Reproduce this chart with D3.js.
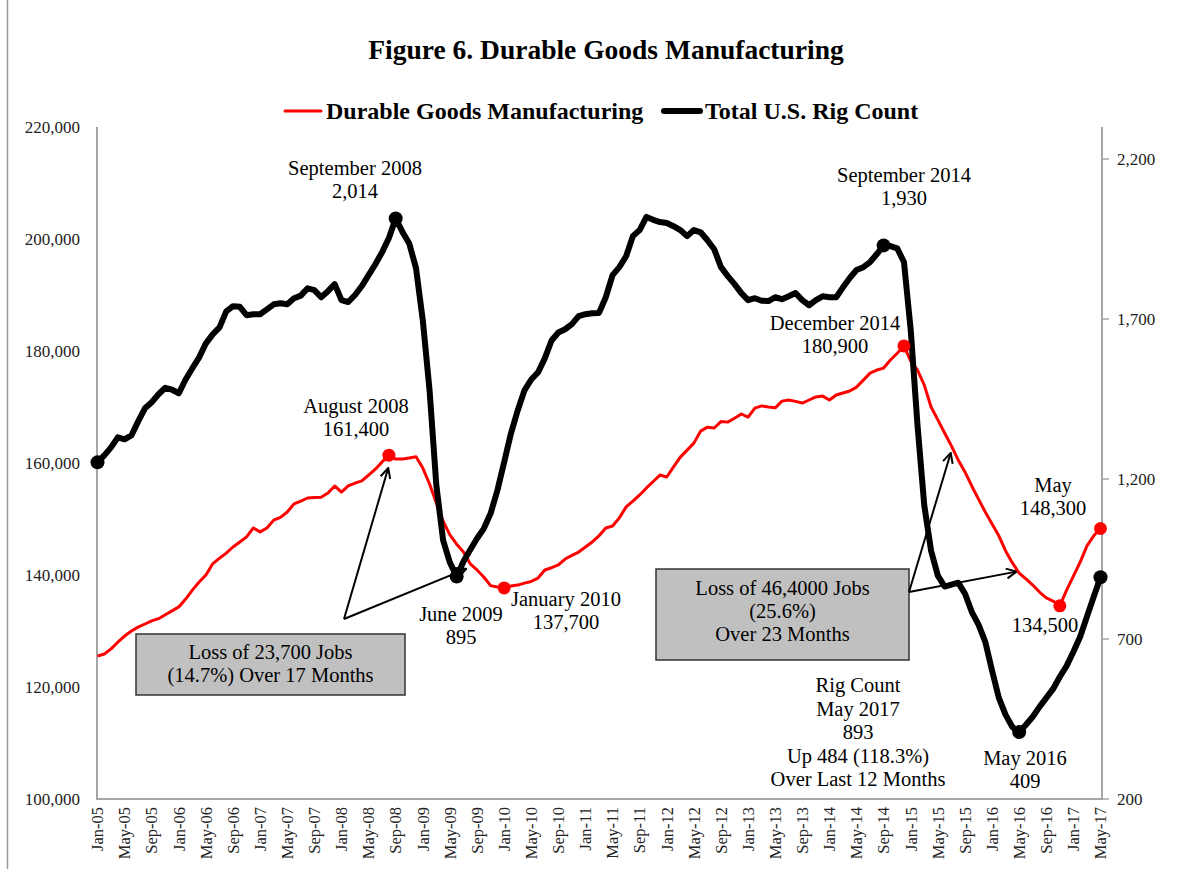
<!DOCTYPE html>
<html lang="en">
<head>
<meta charset="UTF-8" />
<title>Figure 6. Durable Goods Manufacturing</title>
<script src="https://d3js.org/d3.v7.min.js"></script>
<style>
  body { margin: 0; background: #fff; font-family: 'Liberation Serif', 'Times New Roman', serif; }
  svg text { fill: #000; }
  .tick-label { font-size: 17px; fill: #222; }
  .note { font-size: 20.5px; }
</style>
</head>
<body>
<svg width="1193" height="869"></svg>
<script>
// monthly, Jan-05 .. May-17
const durable = [
  125500,125900,126800,128000,129100,130000,130700,131250,131800,132200,132900,133600,
  134300,135700,137300,138750,140000,142000,143000,143900,145000,145900,146800,148400,
  147700,148400,149800,150300,151250,152700,153200,153750,153850,153900,154650,155900,
  154800,155900,156400,156800,157850,158900,160200,161400,160700,160700,160900,161100,
  159100,156250,152850,149600,147150,145500,144100,142000,140900,139650,138100,137850,
  137700,138050,138200,138550,138850,139450,140900,141300,141800,142850,143500,144100,
  145000,145900,147000,148400,148750,150200,152150,153200,154300,155550,156700,157850,
  157500,159300,161050,162300,163550,165700,166400,166250,167400,167300,168000,168750,
  168200,169800,170200,170000,169850,171050,171250,171000,170700,171250,171800,171950,
  171250,172150,172500,172850,173550,174800,176050,176600,176950,178400,179600,180900,
  178200,176600,173900,170000,167700,165350,163050,160550,158400,155900,153550,151250,
  149100,147000,144300,142150,140350,139300,138200,136950,135900,135350,134500,137300,
  139800,142300,145200,147000,148300
];
const rigs = [
  1252,1274,1299,1330,1324,1336,1380,1421,1440,1465,1485,1479,
  1468,1511,1546,1580,1624,1652,1674,1724,1740,1738,1712,1715,
  1715,1730,1746,1749,1746,1765,1773,1796,1790,1768,1787,1809,
  1759,1753,1775,1803,1837,1871,1909,1953,2014,1972,1936,1859,
  1696,1477,1180,1008,939,895,942,979,1014,1045,1092,1164,
  1252,1342,1414,1477,1511,1533,1577,1633,1658,1668,1684,1709,
  1715,1718,1719,1768,1837,1862,1896,1959,1978,2019,2010,2003,
  2000,1990,1978,1959,1978,1971,1946,1918,1862,1834,1809,1781,
  1759,1765,1757,1756,1768,1762,1771,1781,1759,1743,1759,1771,
  1768,1768,1799,1828,1853,1862,1878,1903,1930,1928,1921,1878,
  1665,1367,1117,976,898,864,870,876,842,785,745,691,
  601,516,463,425,409,432,457,488,516,544,582,616,
  660,707,770,832,893
];
const months = d3.timeMonth.range(new Date(2005, 0, 1), new Date(2017, 5, 1));
const monthLabels = months.map(d3.timeFormat("%b-%y"));
const leftTicks = [100000, 120000, 140000, 160000, 180000, 200000, 220000];
const rightTicks = [200, 700, 1200, 1700, 2200];
const redDots = [43, 60, 119, 142, 148];
const blackDots = [0, 44, 53, 116, 136, 148];

const svg = d3.select("svg");
const plotL = 97, plotR = 1102, plotT = 127, plotB = 799;

const x = d3.scaleLinear().domain([0, months.length - 1]).range([97.5, 1100.5]);
const yL = d3.scaleLinear().domain([100000, 220000]).range([plotB, plotT]);
const yR = d3.scaleLinear().domain([200, 2300]).range([plotB, plotT]);

// outer frame
svg.append("line").attr("x1", 7.5).attr("x2", 7.5).attr("y1", 0).attr("y2", 869)
  .attr("stroke", "#9a9a9a").attr("stroke-width", 1.5);

// title + legend
svg.append("text").attr("x", 606).attr("y", 59).attr("text-anchor", "middle")
  .style("font-size", "27.5px").style("font-weight", "bold")
  .text("Figure 6. Durable Goods Manufacturing");

const legend = [
  { label: "Durable Goods Manufacturing", color: "#ff0000", w: 3, x0: 285 },
  { label: "Total U.S. Rig Count", color: "#000", w: 6, x0: 664 }
];
legend.forEach(l => {
  svg.append("line").attr("x1", l.x0).attr("x2", l.x0 + 36).attr("y1", 111).attr("y2", 111)
    .attr("stroke", l.color).attr("stroke-width", l.w).attr("stroke-linecap", "round");
  svg.append("text").attr("x", l.x0 + 41).attr("y", 119)
    .style("font-size", "24px").style("font-weight", "bold").text(l.label);
});

// axes lines
const axisColor = "#a6a6a6";
svg.append("path")
  .attr("d", `M${plotL},${plotT}V${plotB}H${plotR}V${plotT}`)
  .attr("fill", "none").attr("stroke", axisColor).attr("stroke-width", 2);

svg.selectAll(".lt").data(leftTicks).join("text")
  .attr("class", "tick-label").attr("x", 80).attr("y", d => yL(d)).attr("dy", "0.35em")
  .attr("text-anchor", "end").text(d3.format(","));

svg.selectAll(".rtick").data(rightTicks).join("line")
  .attr("x1", plotR).attr("x2", plotR + 7).attr("y1", d => yR(d)).attr("y2", d => yR(d))
  .attr("stroke", axisColor).attr("stroke-width", 1.5);
svg.selectAll(".rt").data(rightTicks).join("text")
  .attr("class", "tick-label").attr("x", 1117).attr("y", d => yR(d)).attr("dy", "0.35em")
  .text(d3.format(","));

const xTickIdx = d3.range(0, months.length, 4);
svg.selectAll(".xt").data(xTickIdx).join("text")
  .attr("class", "tick-label")
  .attr("transform", i => `translate(${x(i)},807) rotate(-90)`)
  .attr("dy", "0.35em").attr("text-anchor", "end")
  .style("font-size", "16.5px")
  .text(i => monthLabels[i]);

// annotation text (drawn under the series, as in the source)
const notes = [
  { x: 355, y: 175, lines: ["September 2008", "2,014"] },
  { x: 356, y: 413, lines: ["August 2008", "161,400"] },
  { x: 461, y: 621, lines: ["June 2009", "895"] },
  { x: 566, y: 606, lines: ["January 2010", "137,700"] },
  { x: 904, y: 182, lines: ["September 2014", "1,930"] },
  { x: 835, y: 330, lines: ["December 2014", "180,900"] },
  { x: 1053, y: 492, lines: ["May", "148,300"] },
  { x: 1045, y: 632, lines: ["134,500"] },
  { x: 858, y: 692, lines: ["Rig Count", "May 2017", "893", "Up 484 (118.3%)", "Over Last 12 Months"], lh: 23.5 },
  { x: 1025, y: 765, lines: ["May 2016", "409"] }
];
notes.forEach(n => {
  const t = svg.append("text").attr("class", "note").attr("text-anchor", "middle");
  n.lines.forEach((s, k) => t.append("tspan").attr("x", n.x)
    .attr("y", n.y + k * (n.lh || 22.5)).text(s));
});

// series
svg.append("path").datum(durable)
  .attr("d", d3.line().x((d, i) => x(i)).y(d => yL(d)))
  .attr("fill", "none").attr("stroke", "#ff0000").attr("stroke-width", 3)
  .attr("stroke-linejoin", "round");
svg.append("path").datum(rigs)
  .attr("d", d3.line().x((d, i) => x(i)).y(d => yR(d)))
  .attr("fill", "none").attr("stroke", "#000").attr("stroke-width", 6)
  .attr("stroke-linejoin", "round");

svg.selectAll(".rd").data(redDots).join("circle")
  .attr("cx", i => x(i)).attr("cy", i => yL(durable[i])).attr("r", 6.5).attr("fill", "#ff0000");
svg.selectAll(".bd").data(blackDots).join("circle")
  .attr("cx", i => x(i)).attr("cy", i => yR(rigs[i])).attr("r", 7).attr("fill", "#000");

// annotation boxes and arrows
const defs = svg.append("defs");
defs.append("marker").attr("id", "arr").attr("viewBox", "0 0 12 12")
  .attr("refX", 11).attr("refY", 6).attr("markerWidth", 12).attr("markerHeight", 12)
  .attr("markerUnits", "userSpaceOnUse").attr("orient", "auto")
  .append("path").attr("d", "M1,1L11,6L1,11").attr("fill", "none")
  .attr("stroke", "#000").attr("stroke-width", 2);

const boxes = [
  { x: 136, y: 634, w: 269, h: 61, lines: ["Loss of 23,700 Jobs", "(14.7%) Over 17 Months"], y0: 659 },
  { x: 656, y: 569, w: 253, h: 91, lines: ["Loss of 46,4000 Jobs", "(25.6%)", "Over 23 Months"], y0: 595 }
];
boxes.forEach(b => {
  svg.append("rect").attr("x", b.x).attr("y", b.y).attr("width", b.w).attr("height", b.h)
    .attr("fill", "#c0c0c0").attr("stroke", "#333").attr("stroke-width", 1.5);
  b.lines.forEach((t, k) => svg.append("text").attr("class", "note")
    .attr("x", b.x + b.w / 2).attr("y", b.y0 + k * 23).attr("text-anchor", "middle").text(t));
});

// arrow tips in data coordinates: [month index, value on left axis]
const arrows = [
  { from: [344, 619], to: [42.9, 159100] },
  { from: [344, 619], to: [54.4, 141100] },
  { from: [909, 592], to: [125.9, 161800] },
  { from: [909, 592], to: [135.6, 140600] }
];
arrows.forEach(a => {
  svg.append("line").attr("x1", a.from[0]).attr("y1", a.from[1])
    .attr("x2", x(a.to[0])).attr("y2", yL(a.to[1]))
    .attr("stroke", "#000").attr("stroke-width", 2).attr("marker-end", "url(#arr)");
});
</script>
</body>
</html>
